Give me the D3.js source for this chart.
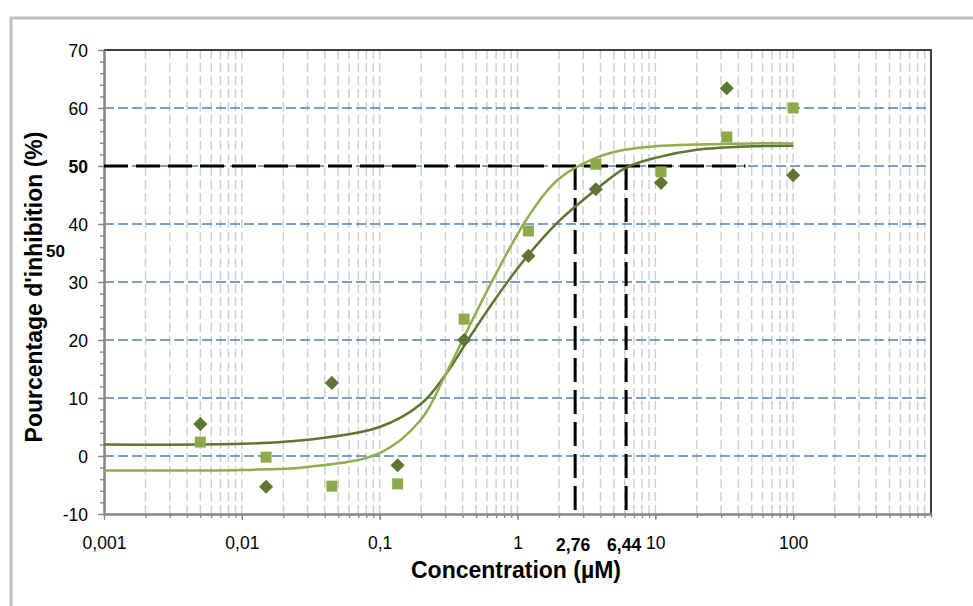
<!DOCTYPE html>
<html>
<head>
<meta charset="utf-8">
<script src="https://cdn.jsdelivr.net/npm/d3@7"></script>
<style>
  body { margin: 0; background: #fff; }
  text { font-family: "Liberation Sans", Arial, sans-serif; }
</style>
</head>
<body>
<div id="my_dataviz"></div>
<script>
// data
var conc = [0.005, 0.015, 0.045, 0.135, 0.41, 1.2, 3.7, 11, 33, 100];
var seriesDiamond = [5.5, -5.3, 12.6, -1.6, 20.0, 34.5, 46.0, 47.1, 63.4, 48.4];
var seriesSquare = [2.4, -0.2, -5.2, -4.8, 23.6, 38.8, 50.3, 49.0, 55.0, 60.0];

// fitted curves
var curveConc = [0.001, 0.01, 0.03, 0.1, 0.2, 0.3, 0.45, 0.7, 1.2, 2, 3.7, 6, 10, 20, 50, 100];
var curveDark = [2.0, 2.1, 2.8, 5.0, 9.0, 14.0, 20.5, 27.3, 34.7, 40.5, 45.9, 49.6, 51.4, 52.8, 53.4, 53.5];
var curveLight = [-2.5, -2.4, -1.9, 0.5, 6.3, 14.0, 22.5, 31.5, 41.3, 47.8, 51.4, 52.8, 53.4, 53.7, 53.9, 53.9];

// reference lines
var refLevel = 50;
var refLineEnd = 45;
var ic50Conc = [2.62, 6.14];
var ic50Labels = ["2,76", "6,44"];

// axes
var xTickValues = [0.001, 0.01, 0.1, 1, 10, 100];
var xTickLabels = ["0,001", "0,01", "0,1", "1", "10", "100"];
var yTickValues = [-10, 0, 10, 20, 30, 40, 50, 60, 70];
var yTickLabels = ["-10", "0", "10", "20", "30", "40", "50", "60", "70"];

var margin = {top: 50, right: 42, bottom: 92, left: 104},
    width = 973 - margin.left - margin.right,
    height = 606 - margin.top - margin.bottom;

var root = d3.select("#my_dataviz")
    .append("svg")
    .attr("width", 973)
    .attr("height", 606);

// outer frame
root.append("rect")
    .attr("x", 11).attr("y", 18)
    .attr("width", 1000).attr("height", 700)
    .attr("fill", "none")
    .attr("stroke", "#bfbfbf")
    .attr("stroke-width", 3);

var svg = root.append("g")
    .attr("transform", "translate(" + margin.left + "," + margin.top + ")");

var x = d3.scaleLog().domain([0.001, 1000]).range([0, width]);
var y = d3.scaleLinear().domain([-10, 70]).range([height, 0]);

// all minor positions 1..9 per decade
var xMinor = [];
for (var e = -3; e < 3; e++) {
    for (var k = 1; k < 10; k++) xMinor.push(k * Math.pow(10, e));
}
xMinor.push(1000);
var yMinor = d3.range(-10, 71, 2);

// vertical grid
svg.append("g").selectAll("line")
    .data(xMinor.filter(function(d) { return d > 0.001 && d < 1000; }))
    .enter().append("line")
    .attr("x1", function(d) { return x(d); })
    .attr("x2", function(d) { return x(d); })
    .attr("y1", 0).attr("y2", height)
    .attr("stroke", "#d0d0d0")
    .attr("stroke-width", 1.5)
    .attr("stroke-dasharray", "9,4");

// horizontal grid
svg.append("g").selectAll("line")
    .data(yTickValues.filter(function(d) { return d > -10 && d < 70; }))
    .enter().append("line")
    .attr("x1", 0).attr("x2", width)
    .attr("y1", function(d) { return y(d); })
    .attr("y2", function(d) { return y(d); })
    .attr("stroke", "#4f81bd")
    .attr("stroke-width", 1.3)
    .attr("stroke-dasharray", "10,4");

// top / right frame
svg.append("path")
    .attr("d", "M0,0H" + width + "V" + height)
    .attr("fill", "none")
    .attr("stroke", "#404040")
    .attr("stroke-width", 2);

// x axis
var xAxisMinor = svg.append("g")
    .attr("transform", "translate(0," + height + ")")
    .call(d3.axisBottom(x).tickValues(xMinor).tickSize(4).tickSizeOuter(0).tickFormat(""));
var xAxis = svg.append("g")
    .attr("transform", "translate(0," + height + ")")
    .call(d3.axisBottom(x).tickValues(xTickValues).tickSize(6).tickSizeOuter(0).tickPadding(17)
        .tickFormat(function(d, i) { return xTickLabels[i]; }));

// y axis
var yAxisMinor = svg.append("g")
    .call(d3.axisLeft(y).tickValues(yMinor).tickSize(4).tickSizeOuter(0).tickFormat(""));
var yAxis = svg.append("g")
    .call(d3.axisLeft(y).tickValues(yTickValues).tickSize(6).tickSizeOuter(0).tickPadding(10)
        .tickFormat(function(d, i) { return yTickLabels[i]; }));

[xAxisMinor, xAxis, yAxisMinor, yAxis].forEach(function(a) {
    a.select(".domain").attr("stroke", "#868686").attr("stroke-width", 2);
    a.selectAll(".tick line").attr("stroke", "#868686").attr("stroke-width", 1.3);
    a.selectAll("text").attr("font-size", 17.5).attr("fill", "#000")
        .attr("font-family", "Liberation Sans, Arial, sans-serif");
});
yAxis.selectAll(".tick text").attr("dy", "0.36em")
    .attr("font-weight", function(d) { return d === refLevel ? "bold" : null; });

// black dashed IC50 lines
var dash = svg.append("g")
    .attr("stroke", "#000")
    .attr("stroke-width", 3)
    .attr("stroke-dasharray", "24,8")
    .attr("fill", "none");
dash.append("line")
    .attr("x1", x(0.001)).attr("x2", x(refLineEnd))
    .attr("y1", y(refLevel)).attr("y2", y(refLevel));
dash.selectAll(".v")
    .data(ic50Conc)
    .enter().append("line")
    .attr("class", "v")
    .attr("x1", function(d) { return x(d); })
    .attr("x2", function(d) { return x(d); })
    .attr("y1", y(refLevel)).attr("y2", height);

svg.selectAll(".ic50lab")
    .data(ic50Conc)
    .enter().append("text")
    .attr("class", "ic50lab")
    .attr("x", function(d) { return x(d) - 2; })
    .attr("y", height + 37)
    .attr("text-anchor", "middle")
    .attr("font-size", 17.5)
    .attr("font-weight", "bold")
    .text(function(d, i) { return ic50Labels[i]; });

// fitted curves
var line = d3.line()
    .x(function(d) { return x(d[0]); })
    .y(function(d) { return y(d[1]); })
    .curve(d3.curveCatmullRom.alpha(0.5));

svg.append("path")
    .datum(curveConc.map(function(c, i) { return [c, curveDark[i]]; }))
    .attr("d", line)
    .attr("fill", "none")
    .attr("stroke", "#5f7532")
    .attr("stroke-width", 2.5);

svg.append("path")
    .datum(curveConc.map(function(c, i) { return [c, curveLight[i]]; }))
    .attr("d", line)
    .attr("fill", "none")
    .attr("stroke", "#8fae4e")
    .attr("stroke-width", 2.5);

// points
svg.selectAll(".diamond")
    .data(conc)
    .enter().append("path")
    .attr("class", "diamond")
    .attr("d", d3.symbol().type(d3.symbolSquare).size(100))
    .attr("transform", function(d, i) {
        return "translate(" + x(d) + "," + y(seriesDiamond[i]) + ") rotate(45)";
    })
    .attr("fill", "#5f7532");

svg.selectAll(".square")
    .data(conc)
    .enter().append("path")
    .attr("class", "square")
    .attr("d", d3.symbol().type(d3.symbolSquare).size(121))
    .attr("transform", function(d, i) {
        return "translate(" + x(d) + "," + y(seriesSquare[i]) + ")";
    })
    .attr("fill", "#8daa4b");

// titles
root.append("text")
    .attr("x", 516)
    .attr("y", 578)
    .attr("text-anchor", "middle")
    .attr("font-size", 23)
    .attr("font-weight", "bold")
    .text("Concentration (µM)");

root.append("text")
    .attr("transform", "translate(42,287) rotate(-90)")
    .attr("text-anchor", "middle")
    .attr("font-size", 23)
    .attr("font-weight", "bold")
    .text("Pourcentage d'inhibition (%)");

root.append("text")
    .attr("x", 65)
    .attr("y", 257)
    .attr("text-anchor", "end")
    .attr("font-size", 17)
    .attr("font-weight", "bold")
    .text("50");
</script>
</body>
</html>
